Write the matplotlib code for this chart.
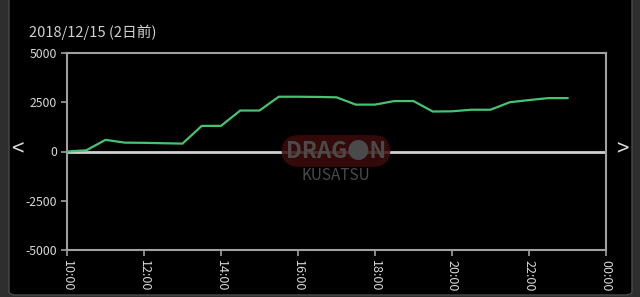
import matplotlib
matplotlib.use("Agg")
import matplotlib.pyplot as plt
from matplotlib.patches import FancyBboxPatch

plt.rcParams['font.family'] = ['Noto Sans CJK JP', 'DejaVu Sans']

title = "2018/12/15 (2日前)"
times = ["10:00", "10:30", "11:00", "11:30", "12:00", "12:30", "13:00", "13:30",
         "14:00", "14:30", "15:00", "15:30", "16:00", "16:30", "17:00", "17:30",
         "18:00", "18:30", "19:00", "19:30", "20:00", "20:30", "21:00", "21:30",
         "22:00", "22:30", "23:00"]
values = [0, 60, 590, 450, 440, 420, 400, 1300,
          1300, 2080, 2080, 2780, 2780, 2770, 2750, 2380,
          2380, 2560, 2560, 2030, 2040, 2120, 2120, 2500,
          2610, 2710, 2710]
x_ticks = [10, 12, 14, 16, 18, 20, 22, 24]
x_tick_labels = ["10:00", "12:00", "14:00", "16:00", "18:00", "20:00", "22:00", "00:00"]
y_ticks = [5000, 2500, 0, -2500, -5000]
y_tick_labels = ["5000", "2500", "0", "-2500", "-5000"]

hours = [int(t.split(":")[0]) + int(t.split(":")[1]) / 60 for t in times]

W, H = 640, 297
fig = plt.figure(figsize=(W / 100, H / 100), dpi=100)
fig.patch.set_facecolor("#2e2e2e")

# black panel
panel = FancyBboxPatch((9 / W, 2 / H), 623 / W, 320 / H,
                       boxstyle="round,pad=0,rounding_size=0.012",
                       transform=fig.transFigure, facecolor="black",
                       edgecolor="#4a4a4a", linewidth=1.0, zorder=0)
fig.patches.append(panel)

ax = fig.add_axes([67 / W, 1 - 250 / H, (606 - 67) / W, (250 - 53) / H])
ax.set_facecolor("black")
ax.set_zorder(2)

grey = "#a0a0a0"
for s in ax.spines.values():
    s.set_color(grey)
    s.set_linewidth(1.5)

ax.axhline(0, color="#d0d0d0", linewidth=2.0, zorder=2)
ax.plot(hours, values, color="#46c270", linewidth=1.6, zorder=3)

ax.set_xlim(10, 24)
ax.set_ylim(-5000, 5000)
ax.set_xticks(x_ticks)
ax.set_xticklabels(x_tick_labels, rotation=270, fontsize=9, color="#d8d8d8")
ax.set_yticks(y_ticks)
ax.set_yticklabels(y_tick_labels, fontsize=8.8, color="#d8d8d8")
ax.tick_params(axis="both", colors=grey, labelcolor="#d8d8d8", length=4, width=1.2, pad=3)

# watermark
fig.text(336 / W, 1 - 151 / H, "DRAG●N", fontsize=16, fontweight="bold",
         color="#4a4a4a", ha="center", va="center", zorder=5,
         bbox=dict(boxstyle="round,pad=0.2,rounding_size=0.8",
                   facecolor="#3e0b0b", edgecolor="none", alpha=0.85))
fig.text(336 / W, 1 - 176 / H, "KUSATSU", fontsize=11, color="#4a4a4a",
         ha="center", va="center", zorder=5)

# title
fig.text(29 / W, 1 - 32 / H, title, fontsize=10.6, color="#d0d0d0",
         ha="left", va="center")

# nav arrows
fig.text(17 / W, 1 - 150 / H, "<", fontsize=16, color="#d8d8d8", ha="center", va="center")
fig.text(622 / W, 1 - 150 / H, ">", fontsize=16, color="#d8d8d8", ha="center", va="center")

fig.savefig("out.png", dpi=100, facecolor=fig.get_facecolor())
